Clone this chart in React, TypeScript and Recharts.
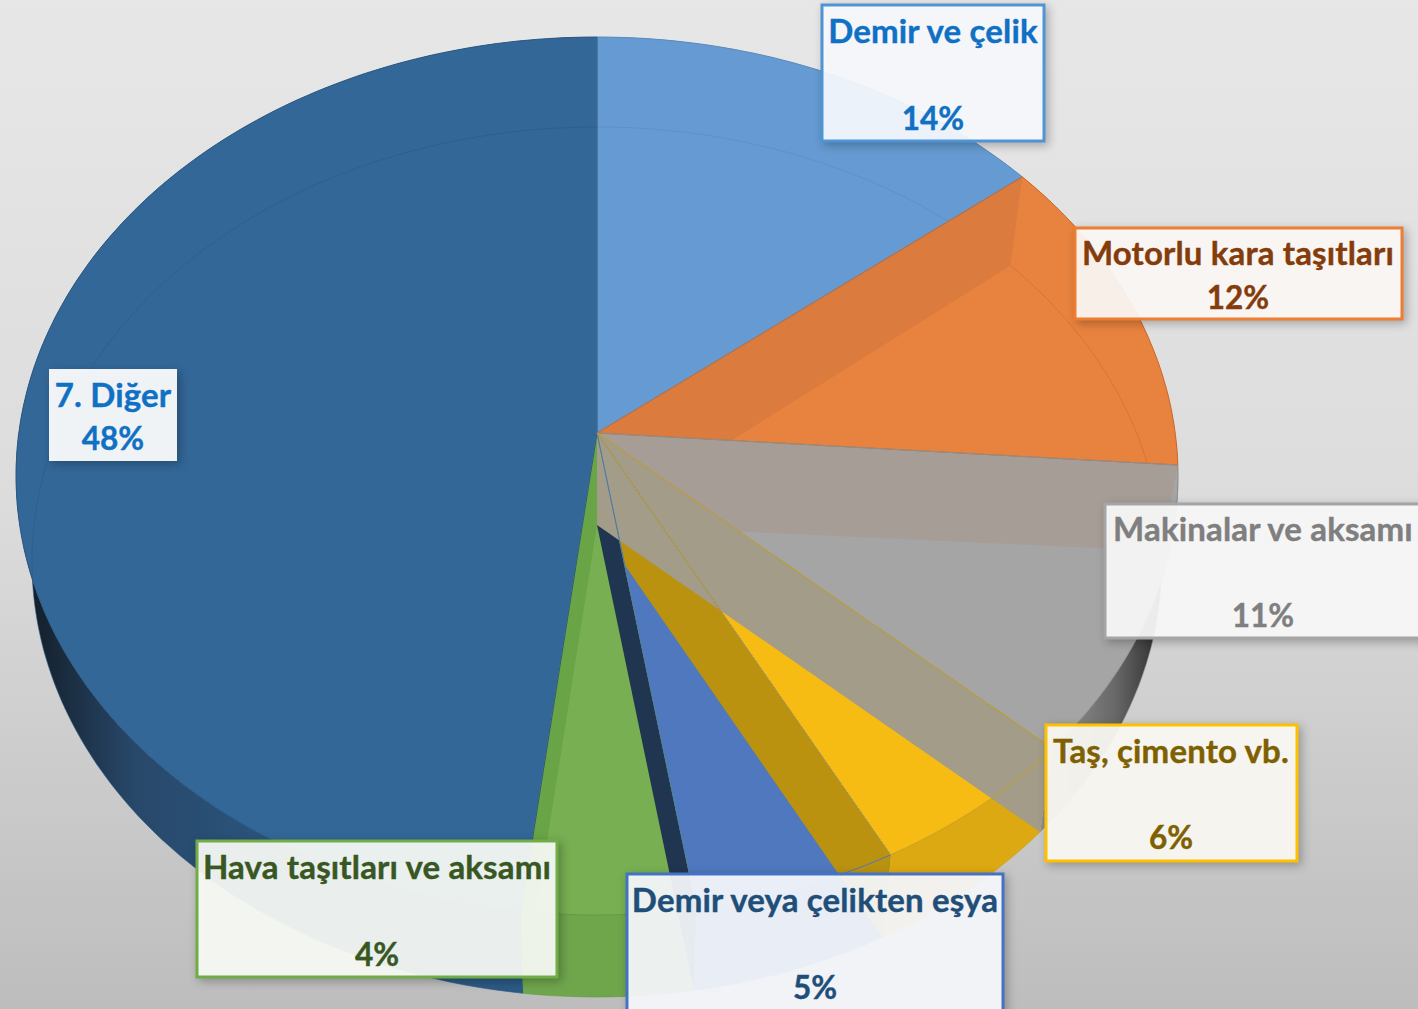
import React from 'react';
import { PieChart, Pie } from 'recharts';

// Values. The tilt bends the wedges, so these are a bit off the rounded labels.
const categories = ['Demir ve çelik', 'Motorlu kara taşıtları', 'Makinalar ve aksamı', 'Taş, çimento vb.', 'Demir veya çelikten eşya', 'Hava taşıtları ve aksamı', '7. Diğer'];
const shares = [14.2, 11.9, 10.7, 5.5, 5.2, 4.4, 48.1];
const topColors = ['#659BD2', '#E8833F', '#A5A5A5', '#F7BC14', '#4F78BE', '#78AF52', '#336797'];
const sideColors = ['#5A8CBE', '#D8773A', 'url(#graySide)', '#DDA912', '#41659F', '#6FA64C', 'url(#blueSide)'];
// wall standing on the end edge of each slice
const wallColors = ['#DC7B3E', '#A69D97', '#A39C88', '#BA9210', '#1F3550', '#69A546', 'none'];
const edgeColors = ['#5A8CBE', '#C96A2C', '#8E8E8E', '#C9A020', '#4F78BE', '#639A42', '#2B5A85'];
const labelColors = ['#0F70C4', '#843C0C', '#7F7F7F', '#7F6000', '#1F4E79', '#385723', '#0F70C4'];
const borderColors = ['#4F94D4', '#ED7D31', '#A5A5A5', '#FFC000', '#4472C4', '#70AD47', 'none'];
const boxFills = ['#F9FBFF', '#FEFAF7', '#FBFBFB', '#FCFBF5', '#F8FAFE', '#FAFCF7', '#FFFFFF'];

const tableData = categories.map((name, idx) => ({ name, value: shares[idx], idx }));

const W = 1418;
const H = 1009;
const APEX_X = 597;
const APEX_Y = 433;
const RADIUS = 581;
const TILT = 0.91; // how far the apex sits from the ellipse centre, in angle terms
const APEX_DROP = 92;

const TOP_FACE = { dy: 43, rx: 581, ry: 439 };
const BOTTOM_FACE = { dy: 129, rx: 565, ry: 435 };

// label boxes: x, y, w, h, then the two text baselines
const boxes = [
  { x: 822, y: 5, w: 222, h: 136, b1: 43, b2: 130 },
  { x: 1075, y: 228, w: 327, h: 91, b1: 265, b2: 309 },
  { x: 1105, y: 504, w: 320, h: 134, b1: 541, b2: 627 },
  { x: 1046, y: 725, w: 251, h: 136, b1: 763, b2: 849 },
  { x: 627, y: 874, w: 376, h: 140, b1: 912, b2: 999 },
  { x: 197, y: 841, w: 360, h: 136, b1: 879, b2: 966 },
  { x: 49, y: 369, w: 128, h: 92, b1: 407, b2: 450 },
];
const textCenters = [933, 1238, 1263, 1171, 815, 377, 113];

// Recharts angle -> parameter on the tilted ellipse, in degrees clockwise from the top
const toEllipse = (angle: number) => {
  const half = ((90 - angle) / 2) * (Math.PI / 180);
  return (2 * Math.atan2(TILT * Math.sin(half), Math.cos(half)) * 180) / Math.PI;
};

const rimPoint = (p: any, face: any, t: number) => {
  const a = (t * Math.PI) / 180;
  const sx = p.outerRadius / RADIUS;
  return [p.cx + face.rx * sx * Math.sin(a), p.cy + (face.dy - face.ry * Math.cos(a)) * sx];
};

const arcPoints = (p: any, face: any, from: number, to: number) => {
  const steps = Math.max(2, Math.ceil(Math.abs(to - from)));
  const pts: number[][] = [];
  for (let i = 0; i <= steps; i++) pts.push(rimPoint(p, face, from + ((to - from) * i) / steps));
  return pts;
};

const toPath = (pts: number[][], close = true) =>
  'M' + pts.map((q) => `${q[0].toFixed(1)},${q[1].toFixed(1)}`).join('L') + (close ? 'Z' : '');

const range = (p: any) => [toEllipse(p.startAngle), toEllipse(p.endAngle)];
const rowOf = (p: any) => (p.idx !== undefined ? p.idx : p.payload?.idx);

const SideShape = (p: any) => {
  const [a, b] = range(p);
  const pts = [...arcPoints(p, TOP_FACE, a, b), ...arcPoints(p, BOTTOM_FACE, b, a)];
  return <path d={toPath(pts)} fill={sideColors[rowOf(p)]} />;
};

const TopShape = (p: any) => {
  const [a, b] = range(p);
  return <path d={toPath([[p.cx, p.cy], ...arcPoints(p, TOP_FACE, a, b)])} fill={topColors[rowOf(p)]} />;
};

// the far rim seen through the glass, it goes under the walls
const FarRimShape = (p: any) => {
  const [a, b] = range(p);
  return <path d={toPath(arcPoints(p, BOTTOM_FACE, a, b), false)} fill="none" stroke={edgeColors[rowOf(p)]} strokeOpacity={0.6} />;
};

const wallShape = (only: number[]) => (p: any) => {
  const row = rowOf(p);
  if (!only.includes(row)) return <g />;
  const b = range(p)[1];
  const pts = [[p.cx, p.cy], rimPoint(p, TOP_FACE, b), rimPoint(p, BOTTOM_FACE, b), [p.cx, p.cy + APEX_DROP]];
  return <path d={toPath(pts)} fill={wallColors[row]} />;
};

const edgeShape = (only: number[]) => (p: any) => {
  const row = rowOf(p);
  if (!only.includes(row)) return <g />;
  const [a, b] = range(p);
  return <path d={toPath([[p.cx, p.cy], ...arcPoints(p, TOP_FACE, a, b)])} fill="none" stroke={edgeColors[row]} strokeWidth={1} />;
};

const renderBox = (props: any) => {
  const row = props.index;
  const box = boxes[row];
  const font = {
    fontFamily: 'Lato, Carlito, sans-serif',
    fontWeight: 700,
    fill: labelColors[row],
    stroke: labelColors[row],
    strokeWidth: 0.4,
    textAnchor: 'middle' as const,
  };
  return (
    <g key={row}>
      <rect
        x={box.x}
        y={box.y}
        width={box.w}
        height={box.h}
        fill={boxFills[row]}
        fillOpacity={0.93}
        stroke={borderColors[row]}
        strokeWidth={3}
        style={{ filter: 'drop-shadow(3px 3px 5px rgba(0,0,0,0.28))' }}
      />
      <text x={textCenters[row]} y={box.b1} fontSize={33} letterSpacing={0.15} {...font}>{categories[row]}</text>
      <text x={textCenters[row]} y={box.b2} fontSize={31.5} {...font}>{Math.round(shares[row])}%</text>
    </g>
  );
};

const pieLayout = {
  data: tableData,
  dataKey: 'value',
  nameKey: 'name',
  cx: APEX_X,
  cy: APEX_Y,
  innerRadius: 0,
  outerRadius: RADIUS,
  startAngle: 90,
  endAngle: -270,
  paddingAngle: 0,
  stroke: 'none',
  isAnimationActive: false,
  labelLine: false,
};

const layer = (key: string, shape: any) => (
  <Pie key={key} {...pieLayout} shape={shape} inactiveShape={shape} activeShape={shape} />
);

export default function App() {
  return (
    <div
      style={{
        position: 'absolute',
        left: 0,
        top: 0,
        width: W,
        height: H,
        overflow: 'hidden',
        background: 'linear-gradient(180deg, #E7E7E7 0%, #DCDCDC 50%, #BDBDBD 100%)',
      }}
    >
      <PieChart width={W} height={H} margin={{ top: 0, right: 0, bottom: 0, left: 0 }}>
        <defs>
          <linearGradient id="blueSide" gradientUnits="userSpaceOnUse" x1="30" y1="0" x2="330" y2="0">
            <stop offset="0%" stopColor="#131E29" />
            <stop offset="35%" stopColor="#28486A" />
            <stop offset="100%" stopColor="#2C5A85" />
          </linearGradient>
          <linearGradient id="graySide" gradientUnits="userSpaceOnUse" x1="1160" y1="0" x2="1060" y2="0">
            <stop offset="0%" stopColor="#2E2E2E" />
            <stop offset="45%" stopColor="#686868" />
            <stop offset="100%" stopColor="#8E8E8E" />
          </linearGradient>
        </defs>
        {layer('side', SideShape)}
        {layer('top', TopShape)}
        {layer('far-rim', FarRimShape)}
        {layer('walls-low', wallShape([0, 3, 4, 5]))}
        {layer('walls-high', wallShape([1, 2]))}
        {layer('edges-low', edgeShape([0, 1, 2, 5, 6]))}
        {layer('edges-mid', edgeShape([4]))}
        {layer('edges-high', edgeShape([3]))}
        <Pie {...pieLayout} fill="none" shape={() => <g />} inactiveShape={() => <g />} label={renderBox} />
      </PieChart>
    </div>
  );
}
